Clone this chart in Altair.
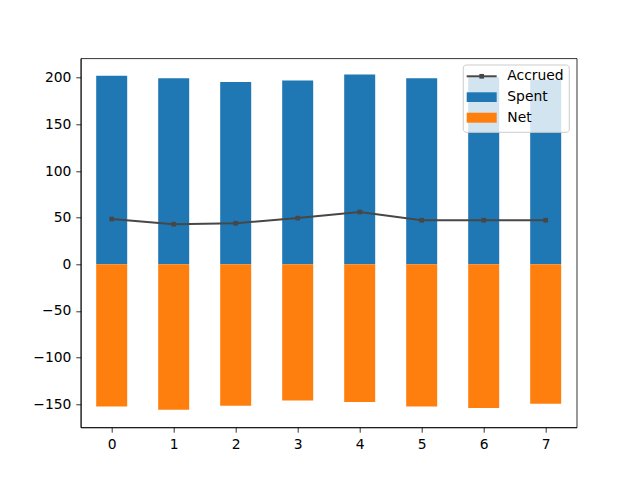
import altair as alt
import pandas as pd

index = [0, 1, 2, 3, 4, 5, 6, 7]
spent = [202.0, 199.5, 195.5, 197.0, 203.5, 199.5, 200.5, 197.5]
net = [-152.5, -156.0, -151.5, -146.0, -147.5, -152.5, -154.0, -149.5]
accrued = [48.5, 43.0, 44.0, 49.5, 56.0, 47.2, 47.2, 47.2]
series_names = ["Accrued", "Spent", "Net"]
series_colors = ["#474747", "#1f77b4", "#ff7f0e"]
y_ticks = [-150, -100, -50, 0, 50, 100, 150, 200]

df = pd.DataFrame({"idx": index, "Spent": spent, "Net": net, "Accrued": accrued})

xs = alt.Scale(domain=[-0.5, 7.5], nice=False, zero=False)
ys = alt.Scale(domain=[-174.7, 220.8], nice=False, zero=False)
xaxis = alt.Axis(values=index, format="d", title=None, grid=False, labelAngle=0)
yaxis = alt.Axis(values=y_ticks, format="d", title=None, grid=False)

base = alt.Chart(df).transform_calculate(
    x0="datum.idx - 0.25", x1="datum.idx + 0.25", zero="0"
)

spent_bars = base.mark_rect(color=series_colors[1]).encode(
    x=alt.X("x0:Q", scale=xs, axis=xaxis),
    x2="x1:Q",
    y=alt.Y("Spent:Q", scale=ys, axis=yaxis),
    y2="zero:Q",
)
net_bars = base.mark_rect(color=series_colors[2]).encode(
    x=alt.X("x0:Q", scale=xs, axis=xaxis),
    x2="x1:Q",
    y=alt.Y("Net:Q", scale=ys, axis=yaxis),
    y2="zero:Q",
)
line = base.mark_line(color=series_colors[0], strokeWidth=2).encode(
    x=alt.X("idx:Q", scale=xs, axis=xaxis),
    y=alt.Y("Accrued:Q", scale=ys, axis=yaxis),
)
points = base.mark_point(shape="square", filled=True, color=series_colors[0], size=22, opacity=1).encode(
    x=alt.X("idx:Q", scale=xs, axis=xaxis),
    y=alt.Y("Accrued:Q", scale=ys, axis=yaxis),
)

one = pd.DataFrame({"a": [0]})
leg_box = alt.Chart(one).mark_rect(
    fill="white", fillOpacity=0.8, stroke="#cccccc", strokeWidth=1, cornerRadius=3
).encode(x=alt.value(382.6), x2=alt.value(488.6), y=alt.value(6.7), y2=alt.value(74))
leg_line = alt.Chart(one).mark_rule(color=series_colors[0], strokeWidth=2).encode(
    x=alt.value(386), x2=alt.value(416), y=alt.value(18)
)
leg_marker = alt.Chart(one).mark_point(shape="square", filled=True, color=series_colors[0], size=22, opacity=1).encode(
    x=alt.value(401), y=alt.value(18)
)
leg_spent = alt.Chart(one).mark_rect(color=series_colors[1]).encode(
    x=alt.value(386), x2=alt.value(416), y=alt.value(34), y2=alt.value(43.7)
)
leg_net = alt.Chart(one).mark_rect(color=series_colors[2]).encode(
    x=alt.value(386), x2=alt.value(416), y=alt.value(54.4), y2=alt.value(64.4)
)
leg_texts = []
for name, ty in zip(series_names, [18, 38.7, 59.4]):
    leg_texts.append(
        alt.Chart(pd.DataFrame({"label": [name]})).mark_text(
            align="left", baseline="middle", font="DejaVu Sans", fontSize=13.9, color="black"
        ).encode(x=alt.value(426.6), y=alt.value(ty), text="label:N")
    )

chart = alt.layer(
    spent_bars, net_bars, line, points, leg_box, leg_line, leg_marker, leg_spent, leg_net, *leg_texts
).properties(
    width=496,
    height=369,
    autosize=alt.AutoSizeParams(type="none"),
    padding={"left": 72.7, "top": 50.3, "right": 55, "bottom": 45},
).configure_axis(
    domainColor="black",
    domainWidth=0.8,
    tickColor="black",
    tickWidth=0.8,
    tickSize=4.9,
    labelPadding=4.9,
    labelColor="black",
    labelFont="DejaVu Sans",
    labelFontSize=13.9,
).configure_view(
    stroke="black", strokeWidth=0.8
)

chart.save("out.html", embed_options={"renderer": "svg", "actions": False})
